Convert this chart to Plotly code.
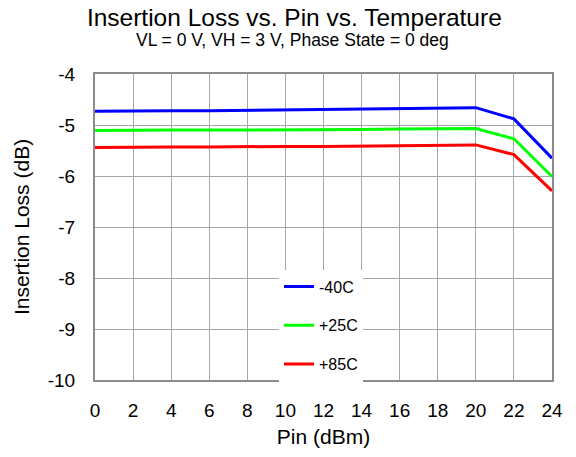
import plotly.graph_objects as go

pin_dbm = [0, 2, 4, 6, 8, 10, 12, 14, 16, 18, 20, 22, 24]
loss_m40 = [-4.73, -4.72, -4.72, -4.72, -4.71, -4.71, -4.70, -4.69, -4.68, -4.66, -4.66, -4.88, -5.65]
loss_p25 = [-5.11, -5.10, -5.10, -5.10, -5.10, -5.09, -5.09, -5.09, -5.08, -5.07, -5.07, -5.27, -6.01]
loss_p85 = [-5.44, -5.43, -5.43, -5.43, -5.42, -5.42, -5.42, -5.41, -5.40, -5.39, -5.39, -5.58, -6.29]
series_names = ["-40C", "+25C", "+85C"]
series_colors = ["#0000FF", "#00FF00", "#FF0000"]
x_ticks = [0, 2, 4, 6, 8, 10, 12, 14, 16, 18, 20, 22, 24]
y_ticks = [-10, -9, -8, -7, -6, -5, -4]

FONT = "Liberation Sans, Arial, sans-serif"

fig = go.Figure()
for name, ys, col in zip(series_names, [loss_m40, loss_p25, loss_p85], series_colors):
    fig.add_trace(go.Scatter(x=pin_dbm, y=ys, mode="lines", name=name,
                             legendgroup=name,
                             line=dict(color=col, width=3)))

fig.update_layout(
    width=576, height=457,
    margin=dict(l=95, r=24, t=74, b=70),
    paper_bgcolor="white", plot_bgcolor="white",
    font=dict(family=FONT, color="black"),
    title=dict(text="Insertion Loss vs. Pin vs. Temperature",
               font=dict(size=24.5, family=FONT, color="black"),
               x=0.511, xref="container", xanchor="center",
               y=1 - 17 / 457, yref="container", yanchor="middle"),
    annotations=[dict(text="VL = 0 V, VH = 3 V, Phase State = 0 deg",
                      xref="paper", yref="paper",
                      x=(292 - 95) / 457, y=(387 - 39) / 313,
                      xanchor="center", yanchor="middle", showarrow=False,
                      font=dict(size=17.5, family=FONT, color="black"))],
    legend=dict(x=(279 - 95) / 457, y=(387 - 274) / 313,
                xanchor="left", yanchor="top",
                bgcolor="white", borderwidth=0,
                font=dict(size=16, family=FONT, color="black"),
                tracegroupgap=15, itemwidth=30),
    showlegend=True,
)

fig.update_xaxes(range=[0, 24], tickvals=x_ticks, ticktext=[str(v) for v in x_ticks],
                 showgrid=True, gridcolor="#a6a6a6", gridwidth=1,
                 showline=True, linecolor="#8c8c8c", linewidth=2, mirror=True,
                 ticks="", zeroline=False,
                 tickfont=dict(size=19, family=FONT, color="black"),
                 ticklabelstandoff=12,
                 title=dict(text="Pin (dBm)", font=dict(size=21, family=FONT, color="black"),
                            standoff=10))
fig.update_yaxes(range=[-10, -4], tickvals=y_ticks, ticktext=[str(v) for v in y_ticks],
                 showgrid=True, gridcolor="#a6a6a6", gridwidth=1,
                 showline=True, linecolor="#8c8c8c", linewidth=2, mirror=True,
                 ticks="", zeroline=False,
                 tickfont=dict(size=19, family=FONT, color="black"),
                 ticklabelstandoff=14,
                 title=dict(text="Insertion Loss (dB)", font=dict(size=21, family=FONT, color="black"),
                            standoff=12))

fig.write_html("out.html", config={"displayModeBar": False},
               post_script="document.body.style.margin='0';")
